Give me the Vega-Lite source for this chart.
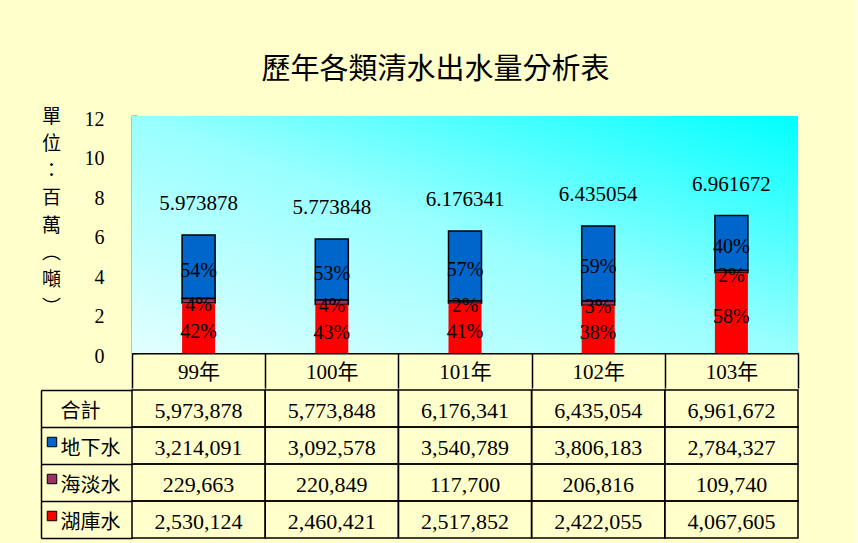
{
  "$schema": "https://vega.github.io/schema/vega-lite/v6.json",
  "background": "#FFFFCC",
  "padding": {"left": 40, "top": 56, "right": 58, "bottom": 8},
  "title": {"text": "歷年各類清水出水量分析表", "fontSize": 29, "font": "Noto Sans CJK TC", "fontWeight": "normal", "color": "black", "anchor": "middle", "offset": 22, "dx": 16},
  "config": {"view": {"stroke": null}, "font": "Liberation Serif, Noto Sans CJK TC", "concat": {"spacing": 0}, "axis": {"labelOverlap": false}},
  "datasets": {
    "table": [
      {"year": "99年", "row": "合計", "value": 5973878, "label": "5.973878"},
      {"year": "99年", "row": "地下水", "value": 3214091, "label": "54%"},
      {"year": "99年", "row": "海淡水", "value": 229663, "label": "4%"},
      {"year": "99年", "row": "湖庫水", "value": 2530124, "label": "42%"},
      {"year": "100年", "row": "合計", "value": 5773848, "label": "5.773848"},
      {"year": "100年", "row": "地下水", "value": 3092578, "label": "53%"},
      {"year": "100年", "row": "海淡水", "value": 220849, "label": "4%"},
      {"year": "100年", "row": "湖庫水", "value": 2460421, "label": "43%"},
      {"year": "101年", "row": "合計", "value": 6176341, "label": "6.176341"},
      {"year": "101年", "row": "地下水", "value": 3540789, "label": "57%"},
      {"year": "101年", "row": "海淡水", "value": 117700, "label": "2%"},
      {"year": "101年", "row": "湖庫水", "value": 2517852, "label": "41%"},
      {"year": "102年", "row": "合計", "value": 6435054, "label": "6.435054"},
      {"year": "102年", "row": "地下水", "value": 3806183, "label": "59%"},
      {"year": "102年", "row": "海淡水", "value": 206816, "label": "3%"},
      {"year": "102年", "row": "湖庫水", "value": 2422055, "label": "38%"},
      {"year": "103年", "row": "合計", "value": 6961672, "label": "6.961672"},
      {"year": "103年", "row": "地下水", "value": 2784327, "label": "40%"},
      {"year": "103年", "row": "海淡水", "value": 109740, "label": "2%"},
      {"year": "103年", "row": "湖庫水", "value": 4067605, "label": "58%"}
    ]
  },
  "spacing": -9,
  "vconcat": [
    {
      "width": 666,
      "height": 237,
      "data": {"name": "table"},
      "layer": [
        {
          "data": {"values": [{}]},
          "mark": {"type": "rect", "fill": {"gradient": "linear", "x1": 0, "y1": 1, "x2": 1, "y2": 0, "stops": [{"offset": 0, "color": "#E2FFFF"}, {"offset": 0.5, "color": "#99FFFF"}, {"offset": 1, "color": "#00FFFF"}]}},
          "encoding": {}
        },
        {
          "transform": [
            {"filter": "datum.row !== '合計'"},
            {"stack": "value", "groupby": ["year"], "sort": [{"field": "row", "order": "descending"}], "as": ["v0", "v1"]}
          ],
          "layer": [
            {
              "mark": {"type": "bar", "width": 33, "strokeWidth": 1.5},
              "encoding": {
                "x": {"field": "year", "type": "nominal", "scale": {"domain": ["99年", "100年", "101年", "102年", "103年"], "paddingInner": 0, "paddingOuter": 0},
                  "axis": {"title": null, "domainColor": "black", "domainWidth": 2, "tickBand": "extent", "tickSize": 35, "tickColor": "black", "tickWidth": 1.5, "labelFontSize": 21, "labelColor": "black", "labelPadding": -27, "labelAngle": 0}},
                "y": {"field": "v0", "type": "quantitative", "scale": {"domain": [0, 12000000]},
                  "axis": {"values": [0, 2000000, 4000000, 6000000, 8000000, 10000000, 12000000], "labelExpr": "format(datum.value / 1000000, 'd')", "labelOverlap": false, "grid": false, "domainColor": "black", "domainWidth": 1.5, "tickColor": "black", "tickWidth": 1.5, "tickSize": -5, "labelPadding": 33, "labelFontSize": 20, "labelColor": "black", "labelFont": "Liberation Serif", "labelOffset": 3,
                    "title": ["單", "位", "：", "百", "萬", "︵", "噸", "︶"], "titleAngle": 0, "titleFontSize": 19, "titleFont": "Noto Sans CJK TC", "titleFontWeight": "normal", "titleLineHeight": 27.3, "titleX": -81, "titleY": -9, "titleAlign": "center", "titleBaseline": "top", "titleColor": "black"}},
                "y2": {"field": "v1"},
                "color": {"field": "row", "type": "nominal", "scale": {"domain": ["地下水", "海淡水", "湖庫水"], "range": ["#0066CC", "#993366", "#FF0000"]}, "legend": null},
                "stroke": {"condition": {"test": "datum.row === '湖庫水'", "value": "transparent"}, "value": "black"}
              }
            },
            {
              "transform": [{"calculate": "(datum.v0 + datum.v1) / 2", "as": "mid"}],
              "mark": {"type": "text", "fontSize": 20, "baseline": "middle", "dy": 4, "color": "black"},
              "encoding": {
                "x": {"field": "year", "type": "nominal"},
                "y": {"field": "mid", "type": "quantitative",
                  "axis": {"values": [0, 2000000, 4000000, 6000000, 8000000, 10000000, 12000000], "labelExpr": "format(datum.value / 1000000, 'd')", "labelOverlap": false, "grid": false, "domainColor": "black", "domainWidth": 1.5, "tickColor": "black", "tickWidth": 1.5, "tickSize": -5, "labelPadding": 33, "labelFontSize": 20, "labelColor": "black", "labelFont": "Liberation Serif", "labelOffset": 3,
                    "title": ["單", "位", "：", "百", "萬", "︵", "噸", "︶"], "titleAngle": 0, "titleFontSize": 19, "titleFont": "Noto Sans CJK TC", "titleFontWeight": "normal", "titleLineHeight": 27.3, "titleX": -81, "titleY": -9, "titleAlign": "center", "titleBaseline": "top", "titleColor": "black"}},
                "yOffset": {"condition": {"test": "datum.row === '湖庫水'", "value": 6}, "value": 0},
                "text": {"field": "label"}
              }
            }
          ]
        },
        {
          "transform": [{"filter": "datum.row === '合計'"}],
          "mark": {"type": "text", "fontSize": 21, "baseline": "middle", "dy": -31, "color": "black"},
          "encoding": {
            "x": {"field": "year", "type": "nominal"},
            "y": {"field": "value", "type": "quantitative",
              "axis": {"values": [0, 2000000, 4000000, 6000000, 8000000, 10000000, 12000000], "labelExpr": "format(datum.value / 1000000, 'd')", "labelOverlap": false, "grid": false, "domainColor": "black", "domainWidth": 1.5, "tickColor": "black", "tickWidth": 1.5, "tickSize": -5, "labelPadding": 33, "labelFontSize": 20, "labelColor": "black", "labelFont": "Liberation Serif", "labelOffset": 3,
                "title": ["單", "位", "：", "百", "萬", "︵", "噸", "︶"], "titleAngle": 0, "titleFontSize": 19, "titleFont": "Noto Sans CJK TC", "titleFontWeight": "normal", "titleLineHeight": 27.3, "titleX": -81, "titleY": -9, "titleAlign": "center", "titleBaseline": "top", "titleColor": "black"}},
            "text": {"field": "label"}
          }
        }
      ]
    },
    {
      "width": 666,
      "height": 148,
      "data": {"name": "table"},
      "layer": [
        {
          "mark": {"type": "rect", "fill": "transparent", "stroke": "black", "strokeWidth": 1.5},
          "encoding": {
            "x": {"field": "year", "type": "nominal", "axis": null, "scale": {"domain": ["99年", "100年", "101年", "102年", "103年"], "paddingInner": 0, "paddingOuter": 0}},
            "y": {"field": "row", "type": "nominal", "scale": {"domain": ["合計", "地下水", "海淡水", "湖庫水"], "paddingInner": 0, "paddingOuter": 0},
              "axis": {"title": null, "offset": 91, "domainColor": "black", "domainWidth": 1.5, "tickBand": "extent", "tickSize": -91, "tickColor": "black", "tickWidth": 1.5, "labelAlign": "left", "labelPadding": 72, "labelFont": "Noto Sans CJK TC", "labelFontSize": 20, "labelColor": "black", "labelOffset": 3}}
          }
        },
        {
          "mark": {"type": "text", "fontSize": 22, "baseline": "middle", "dy": 2, "color": "black"},
          "encoding": {
            "x": {"field": "year", "type": "nominal"},
            "y": {"field": "row", "type": "nominal"},
            "text": {"field": "value", "type": "quantitative", "format": ",d"}
          }
        },
        {
          "transform": [{"filter": "datum.row !== '合計' && datum.year === '99年'"}],
          "mark": {"type": "point", "shape": "square", "filled": true, "size": 90, "stroke": "black", "strokeWidth": 1, "opacity": 1},
          "encoding": {
            "x": {"datum": "99年", "bandPosition": 0},
            "y": {"field": "row", "type": "nominal"},
            "xOffset": {"value": -80},
            "yOffset": {"value": 15},
            "color": {"field": "row", "type": "nominal", "scale": {"domain": ["地下水", "海淡水", "湖庫水"], "range": ["#0066CC", "#993366", "#FF0000"]}, "legend": null}
          }
        }
      ]
    }
  ]
}
